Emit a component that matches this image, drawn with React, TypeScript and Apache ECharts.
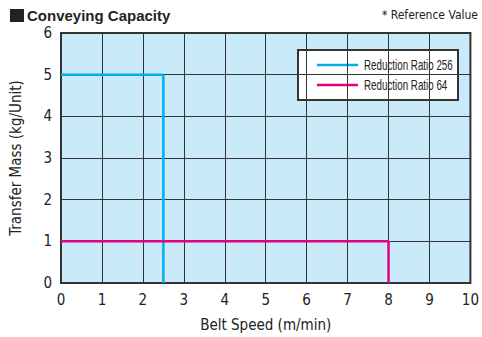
import React, { useEffect, useRef } from "react";
import * as echarts from "echarts";

const seriesNames = ["Reduction Ratio 256", "Reduction Ratio 64"];
const seriesColors = ["#00aeef", "#e6007e"];
const ratio256X = [0, 2.5, 2.5];
const ratio256Y = [5, 5, 0];
const ratio64X = [0, 8, 8];
const ratio64Y = [1, 1, 0];
const xTicks = [0, 10, 1];
const yTicks = [0, 6, 1];

const FONT = "'DejaVu Sans Condensed', 'Liberation Sans', Arial, sans-serif";
const LFONT = "'Liberation Sans', Arial, sans-serif";

export default function App() {
  const ref = useRef<HTMLDivElement>(null);
  useEffect(() => {
    if (!ref.current) return;
    const chart = echarts.init(ref.current, null, { renderer: "svg" });
    const pairs = (xs: number[], ys: number[]) => xs.map((x, i) => [x, ys[i]]);
    const legendItems: any[] = [];
    seriesNames.forEach((name, i) => {
      const y = 15 + i * 20;
      legendItems.push({
        type: "line",
        shape: { x1: 19, y1: y, x2: 60, y2: y },
        style: { stroke: seriesColors[i], lineWidth: 2.5 },
      });
      legendItems.push({
        type: "text",
        x: 66, y,
        scaleX: 0.7,
        style: { text: name, fontSize: 14, fill: "#222", fontFamily: LFONT, verticalAlign: "middle", align: "left" },
      });
    });
    chart.setOption({
      animation: false,
      textStyle: { fontFamily: FONT },
      graphic: [
        { type: "rect", left: 10, top: 9, shape: { width: 14, height: 13 }, style: { fill: "#222" } },
        {
          type: "text", left: 27, top: 8,
          style: { text: "Conveying Capacity", fontSize: 15, fontWeight: "bold", fill: "#222", fontFamily: LFONT },
        },
        {
          type: "text", right: 4, top: 9,
          style: { text: "* Reference Value", fontSize: 12, fill: "#222", fontFamily: FONT },
        },
        {
          type: "group", x: 298, y: 50, z: 100,
          children: [
            { type: "rect", shape: { x: 0, y: 0, width: 160, height: 50 }, style: { fill: "#fff", stroke: "#333", lineWidth: 2 } },
            ...legendItems,
          ],
        },
      ],
      grid: {
        left: 59, right: 7, top: 33, bottom: 54,
        show: true, backgroundColor: "#c8eaf9", borderColor: "#333", borderWidth: 2,
        containLabel: false,
      },
      xAxis: {
        type: "value", min: xTicks[0], max: xTicks[1], interval: xTicks[2],
        name: "Belt Speed (m/min)", nameLocation: "middle", nameGap: 34,
        nameTextStyle: { fontSize: 15, color: "#222", fontFamily: FONT },
        axisLine: { show: false }, axisTick: { show: false },
        axisLabel: { fontSize: 15, color: "#222", margin: 9, fontFamily: FONT },
        splitLine: { show: true, lineStyle: { color: "#333", width: 1 } },
      },
      yAxis: {
        type: "value", min: yTicks[0], max: yTicks[1], interval: yTicks[2],
        name: "Transfer Mass (kg/Unit)", nameLocation: "middle", nameGap: 38,
        nameTextStyle: { fontSize: 15, color: "#222", fontFamily: FONT },
        axisLine: { show: false }, axisTick: { show: false },
        axisLabel: { fontSize: 15, color: "#222", margin: 9, fontFamily: FONT },
        splitLine: { show: true, lineStyle: { color: "#333", width: 1 } },
      },
      series: [
        {
          name: seriesNames[0], type: "line", data: pairs(ratio256X, ratio256Y),
          showSymbol: false, symbol: "none", color: seriesColors[0],
          lineStyle: { width: 2.5, color: seriesColors[0] },
        },
        {
          name: seriesNames[1], type: "line", data: pairs(ratio64X, ratio64Y),
          showSymbol: false, symbol: "none", color: seriesColors[1],
          lineStyle: { width: 2.5, color: seriesColors[1] },
        },
      ],
    });
    return () => chart.dispose();
  }, []);
  return <div ref={ref} style={{ width: 482, height: 337, position: "absolute", left: 0, top: 0 }} />;
}
